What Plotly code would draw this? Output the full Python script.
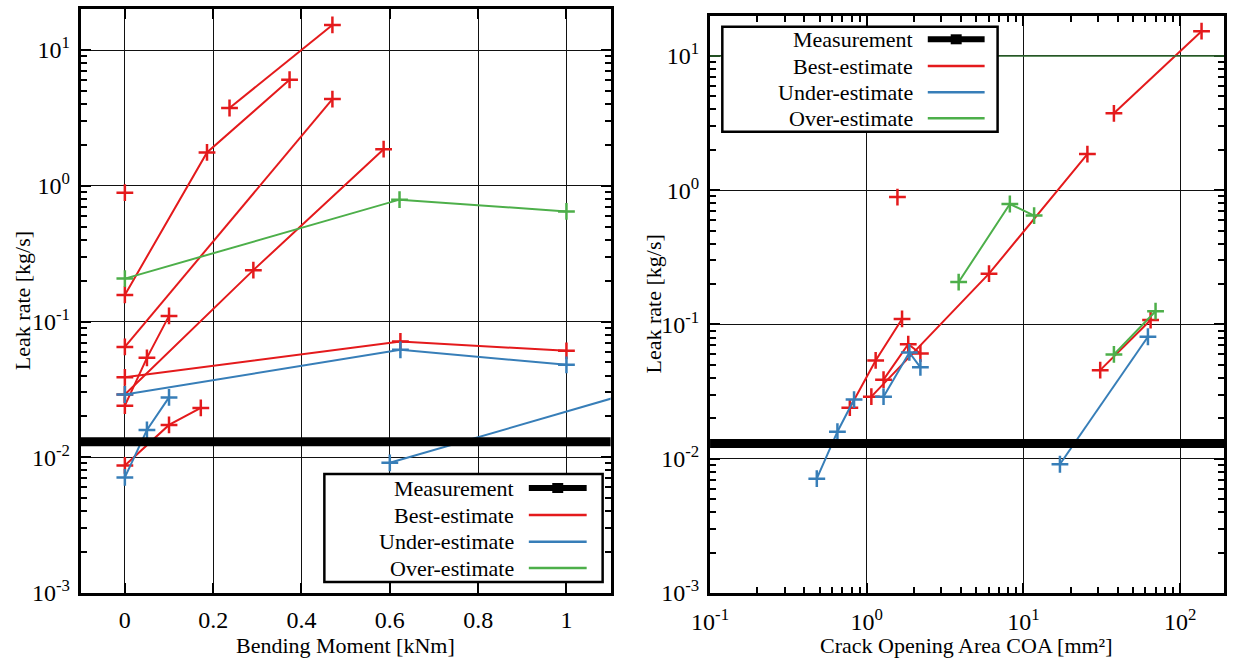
import plotly.graph_objects as go

# ---------------- data ----------------
MEASUREMENT_LEAK = 0.013          # kg/s
THRESHOLD_LEAK = 10.0             # dark green reference line (right panel)

# Left panel: Bending moment [kNm] vs leak rate [kg/s]
BM_BEST = [[0.237, 0.47], [0, 0.186, 0.373], [0, 0.47], [0, 0.291, 0.586],
           [0, 0.05, 0.1], [0, 0.624, 1.0], [0, 0.1, 0.172], [0]]
LEAK_BM_BEST = [[3.74, 15.3], [0.157, 1.76, 6.04], [0.065, 4.35], [0.029, 0.239, 1.86],
                [0.024, 0.054, 0.11], [0.0388, 0.0713, 0.0608], [0.0087, 0.0173, 0.0231], [0.89]]
BM_UNDER = [[0, 0.624, 1.0], [0, 0.05, 0.1], [0.6, 1.6]]
LEAK_BM_UNDER = [[0.029, 0.0619, 0.048], [0.0071, 0.0159, 0.0276], [0.0091, 0.08]]
BM_OVER = [[0, 0.622, 1.0]]
LEAK_BM_OVER = [[0.207, 0.79, 0.647]]

# Right panel: crack opening area [mm²] vs leak rate [kg/s]
COA_BEST = [[37.8, 137], [1.07, 6.03, 25.6], [0.78, 1.14, 1.68], [1.28, 1.84, 2.2],
            [30.9, 64.8], [1.57]]
LEAK_COA_BEST = [[3.74, 15.3], [0.029, 0.239, 1.86], [0.024, 0.054, 0.11],
                 [0.0388, 0.0713, 0.0608], [0.0457, 0.108], [0.89]]
COA_UNDER = [[1.28, 1.87, 2.2], [0.48, 0.65, 0.83], [17.1, 62.3]]
LEAK_COA_UNDER = [[0.029, 0.0619, 0.048], [0.0071, 0.0159, 0.0276], [0.0091, 0.081]]
COA_OVER = [[3.86, 8.19, 11.7], [37.8, 69.7]]
LEAK_COA_OVER = [[0.207, 0.79, 0.647], [0.0598, 0.1256]]

BM_TICKS = [0, 0.2, 0.4, 0.6, 0.8, 1]
BM_TICKTEXT = ["0", "0.2", "0.4", "0.6", "0.8", "1"]
LEAK_TICKS = [1e-3, 1e-2, 1e-1, 1e0, 1e1]
LEAK_TICKTEXT = ["10<sup>-3</sup>", "10<sup>-2</sup>", "10<sup>-1</sup>", "10<sup>0</sup>", "10<sup>1</sup>"]
COA_TICKS = [1e-1, 1e0, 1e1, 1e2]
COA_TICKTEXT = ["10<sup>-1</sup>", "10<sup>0</sup>", "10<sup>1</sup>", "10<sup>2</sup>"]
LEGEND_LABELS = ["Measurement", "Best-estimate", "Under-estimate", "Over-estimate"]

# ---------------- style ----------------
RED = "#e41a1c"
BLUE = "#377eb8"
GREEN = "#4daf4a"
DKGREEN = "#2f6b2f"
FONT = "'Liberation Serif', 'Times New Roman', 'DejaVu Serif', serif"
W_PX, H_PX = 1233, 661
ML, MR, MT, MB = 80, 6, 9, 68
PW, PH = W_PX - ML - MR, H_PX - MT - MB


def px_x(px):
    return (px - ML) / PW


def px_y(py):
    return (MT + PH - py) / PH


fig = go.Figure()


def add_series(xs_list, ys_list, color, xa, ya):
    for xs, ys in zip(xs_list, ys_list):
        fig.add_trace(go.Scatter(
            x=xs, y=ys, mode="lines+markers", xaxis=xa, yaxis=ya,
            line=dict(color=color, width=2),
            marker=dict(symbol="cross-thin", size=12, color=color,
                        line=dict(color=color, width=2.5)),
            showlegend=False, hoverinfo="x+y", cliponaxis=True))


add_series(BM_BEST, LEAK_BM_BEST, RED, "x", "y")
add_series(BM_UNDER, LEAK_BM_UNDER, BLUE, "x", "y")
add_series(BM_OVER, LEAK_BM_OVER, GREEN, "x", "y")
add_series(COA_BEST, LEAK_COA_BEST, RED, "x2", "y2")
add_series(COA_UNDER, LEAK_COA_UNDER, BLUE, "x2", "y2")
add_series(COA_OVER, LEAK_COA_OVER, GREEN, "x2", "y2")

minor_log = [m * 10 ** e for e in range(-3, 3) for m in range(2, 10)]

axis_common = dict(showline=True, linewidth=3, linecolor="black", mirror="ticks",
                   ticks="inside", ticklen=10, tickwidth=2, tickcolor="black",
                   showgrid=True, gridcolor="#111111", gridwidth=1, zeroline=False,
                   tickfont=dict(family=FONT, size=24, color="black"))
minor_common = dict(ticks="inside", ticklen=6, tickwidth=2, tickcolor="black",
                    showgrid=False, tickvals=minor_log)

fig.update_layout(
    width=W_PX, height=H_PX,
    margin=dict(l=ML, r=MR, t=MT, b=MB),
    paper_bgcolor="white", plot_bgcolor="white",
    showlegend=False,
    font=dict(family=FONT, color="black"),
    xaxis=dict(domain=[px_x(80.7), px_x(612)], range=[-0.1, 1.1],
               tickvals=BM_TICKS, ticktext=BM_TICKTEXT, anchor="y",
               ticklabelstandoff=3, **axis_common),
    yaxis=dict(domain=[px_y(593), px_y(9.3)], type="log", range=[-3, 1.3],
               tickvals=LEAK_TICKS, ticktext=LEAK_TICKTEXT, anchor="x",
               minor=minor_common, ticklabelstandoff=3, **axis_common),
    xaxis2=dict(domain=[px_x(711.7), px_x(1227)], type="log", range=[-1, 2.28],
                tickvals=COA_TICKS, ticktext=COA_TICKTEXT, anchor="y2",
                minor=minor_common, ticklabelstandoff=5, **axis_common),
    yaxis2=dict(domain=[px_y(593), px_y(15.7)], type="log", range=[-3, 1.3],
                tickvals=LEAK_TICKS, ticktext=LEAK_TICKTEXT, anchor="x2",
                minor=minor_common, ticklabelstandoff=3, **axis_common),
)

shapes = []
annotations = []

# measurement lines and reference line
for xr, yr in (("x domain", "y"), ("x2 domain", "y2")):
    shapes.append(dict(type="line", xref=xr, yref=yr, x0=0, x1=1,
                       y0=MEASUREMENT_LEAK, y1=MEASUREMENT_LEAK,
                       line=dict(color="black", width=9), layer="above"))
shapes.append(dict(type="line", xref="x2 domain", yref="y2", x0=0, x1=1,
                   y0=THRESHOLD_LEAK, y1=THRESHOLD_LEAK,
                   line=dict(color=DKGREEN, width=1.5), layer="above"))


def add_legend(box, rows, text_right, line_x):
    x0, x1, y0, y1 = box
    shapes.append(dict(type="rect", xref="paper", yref="paper",
                       x0=px_x(x0), x1=px_x(x1), y0=px_y(y1), y1=px_y(y0),
                       fillcolor="white", line=dict(color="black", width=2.5),
                       layer="above"))
    colors = ["black", RED, BLUE, GREEN]
    for i, (label, ry) in enumerate(zip(LEGEND_LABELS, rows)):
        annotations.append(dict(xref="paper", yref="paper", x=px_x(text_right), y=px_y(ry),
                                text=label, showarrow=False, xanchor="right", yanchor="middle",
                                font=dict(family=FONT, size=22, color="black")))
        shapes.append(dict(type="line", xref="paper", yref="paper",
                           x0=px_x(line_x[0]), x1=px_x(line_x[1]), y0=px_y(ry), y1=px_y(ry),
                           line=dict(color=colors[i], width=6 if i == 0 else 2.5),
                           layer="above"))
        if i == 0:
            cx = (line_x[0] + line_x[1]) / 2
            shapes.append(dict(type="rect", xref="paper", yref="paper",
                               x0=px_x(cx - 5.5), x1=px_x(cx + 5.5),
                               y0=px_y(ry + 5), y1=px_y(ry - 5),
                               fillcolor="black", line=dict(width=0), layer="above"))


add_legend((325, 604, 474, 582), [488, 515, 541.7, 568], 517, (530, 588))
add_legend((724, 1000, 26.7, 131.7), [39.3, 66, 92.3, 118.3], 917, (930, 987))

# axis titles
title_font = dict(family=FONT, size=22, color="black")
annotations += [
    dict(xref="paper", yref="paper", x=px_x(346), y=px_y(645), text="Bending Moment [kNm]",
         showarrow=False, xanchor="center", yanchor="middle", font=title_font),
    dict(xref="paper", yref="paper", x=px_x(969), y=px_y(645), text="Crack Opening Area COA [mm²]",
         showarrow=False, xanchor="center", yanchor="middle", font=title_font),
    dict(xref="paper", yref="paper", x=px_x(22), y=px_y(301), text="Leak rate [kg/s]",
         showarrow=False, xanchor="center", yanchor="middle", textangle=-90, font=title_font),
    dict(xref="paper", yref="paper", x=px_x(655), y=px_y(304), text="Leak rate [kg/s]",
         showarrow=False, xanchor="center", yanchor="middle", textangle=-90, font=title_font),
]

fig.update_layout(shapes=shapes, annotations=annotations)
fig.write_html("out.html", config={"displayModeBar": False},
               post_script="document.body.style.margin='0';document.body.style.overflow='hidden';")
